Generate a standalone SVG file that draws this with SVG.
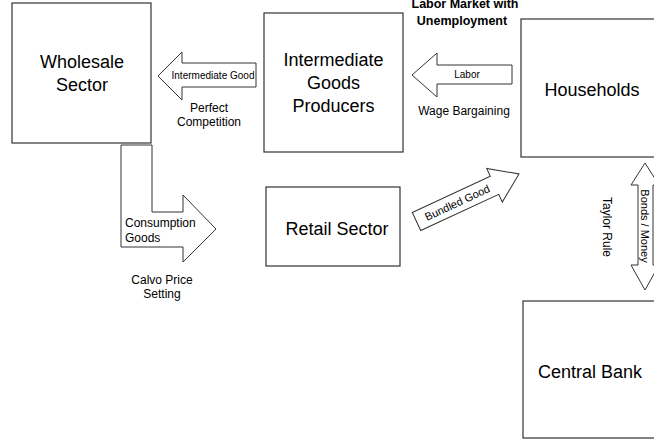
<svg xmlns="http://www.w3.org/2000/svg" width="654" height="445" viewBox="0 0 654 445">
<style>
.box{fill:#fff;stroke:#333;stroke-width:1.2}
.arr{fill:#fff;stroke:#333;stroke-width:1}
.big{font-family:"Liberation Sans",Arial,sans-serif;font-size:18px;fill:#000;text-anchor:middle}
.sm{font-family:"Liberation Sans",Arial,sans-serif;font-size:10px;fill:#000;text-anchor:middle}
.lbl{font-family:"Liberation Sans",Arial,sans-serif;font-size:12px;fill:#000;text-anchor:middle}
.bold{font-family:"Liberation Sans",Arial,sans-serif;font-size:12.5px;font-weight:bold;fill:#000;text-anchor:middle}
</style>
<rect width="654" height="445" fill="#fff"/>
<g id="connectors">
  <g id="intermediate-good">
    <polygon class="arr" points="158,76 182,52 182,63 256,63 256,87 182,87 182,100"/>
    <text class="sm" x="213" y="79" textLength="83">Intermediate Good</text>
  </g>
  <g id="labor">
    <polygon class="arr" points="412,75 437,53 437,65 512,65 512,84 437,84 437,97"/>
    <text class="sm" x="467" y="78">Labor</text>
  </g>
  <g id="consumption-goods">
    <polygon class="arr" points="121,145 152,145 152,212 183,212 183,195 216,229 183,262 183,247 121,247"/>
    <text class="lbl" x="125" y="227" style="text-anchor:start">Consumption</text>
    <text class="lbl" x="125" y="242" style="text-anchor:start">Goods</text>
  </g>
  <g id="bundled-good" transform="translate(416.5,221.5) rotate(-24.9)">
    <polygon class="arr" points="0,-10 86,-10 86,-18.5 113,0 86,18.5 86,10 0,10"/>
    <text class="sm" x="45" y="4" style="font-size:11px">Bundled Good</text>
  </g>
  <g id="bonds-money">
    <polygon class="arr" points="645,163 659,185 653,185 653,265 659,265 645,290 631,265 638,265 638,185 631,185"/>
    <text class="sm" transform="translate(641,226) rotate(90)" style="font-size:11px">Bonds / Money</text>
  </g>
  <text class="lbl" x="209" y="112">Perfect</text>
  <text class="lbl" x="209" y="126">Competition</text>
  <text class="lbl" x="464" y="115">Wage Bargaining</text>
  <text class="lbl" x="162" y="284">Calvo Price</text>
  <text class="lbl" x="162" y="298">Setting</text>
  <text class="lbl" transform="translate(603,227) rotate(90)">Taylor Rule</text>
  <text class="bold" x="465" y="8">Labor Market with</text>
  <text class="bold" x="462" y="25">Unemployment</text>
</g>
<g id="wholesale">
  <rect class="box" x="12" y="3" width="139" height="140"/>
  <text class="big" x="82" y="68">Wholesale</text>
  <text class="big" x="82" y="91">Sector</text>
</g>
<g id="intermediate">
  <rect class="box" x="264" y="13" width="139" height="139"/>
  <text class="big" x="333.5" y="66">Intermediate</text>
  <text class="big" x="333.5" y="89">Goods</text>
  <text class="big" x="333.5" y="112">Producers</text>
</g>
<g id="households">
  <rect class="box" x="521" y="19" width="142" height="138"/>
  <text class="big" x="592" y="96">Households</text>
</g>
<g id="retail">
  <rect class="box" x="266" y="187" width="134" height="79"/>
  <text class="big" x="337" y="235">Retail Sector</text>
</g>
<g id="central-bank">
  <rect class="box" x="523" y="301" width="142" height="137"/>
  <text class="big" x="590" y="378">Central Bank</text>
</g>
</svg>
